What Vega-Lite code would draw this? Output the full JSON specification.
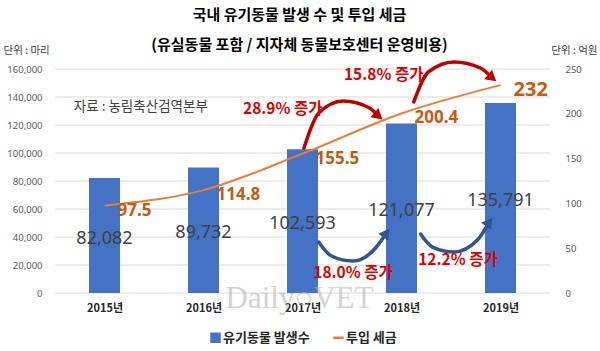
{
  "$schema": "https://vega.github.io/schema/vega-lite/v6.json",
  "width": 505,
  "height": 224,
  "autosize": "none",
  "padding": {"left": 50, "top": 69, "right": 45, "bottom": 58},
  "background": "white",
  "config": {
    "view": {"stroke": null},
    "font": "Noto Sans CJK KR",
    "legend": {"layout": {"bottom": {"anchor": "middle"}}}
  },
  "title": {
    "text": "국내 유기동물 발생 수 및 투입 세금",
    "subtitle": "(유실동물 포함 / 지자체 동물보호센터 운영비용)",
    "font": "Noto Sans CJK KR",
    "fontSize": 15,
    "fontWeight": "bold",
    "color": "#000000",
    "subtitleFont": "Noto Sans CJK KR",
    "subtitleFontSize": 15,
    "subtitleFontWeight": "bold",
    "subtitleColor": "#000000",
    "subtitlePadding": 15,
    "offset": -8,
    "anchor": "middle",
    "dx": -3
  },
  "datasets": {
    "main": [
      {"year": 2015, "count": 82082, "tax": 97.5},
      {"year": 2016, "count": 89732, "tax": 114.8},
      {"year": 2017, "count": 102593, "tax": 155.5},
      {"year": 2018, "count": 121077, "tax": 200.4},
      {"year": 2019, "count": 135791, "tax": 232}
    ],
    "gridlines": [
      {"v": 0}, {"v": 20000}, {"v": 40000}, {"v": 60000}, {"v": 80000},
      {"v": 100000}, {"v": 120000}, {"v": 140000}, {"v": 160000}
    ],
    "notes": [
      {"x": 2016.8, "y": 205.4, "label": "28.9% 증가"},
      {"x": 2017.82, "y": 243.3, "label": "15.8% 증가"},
      {"x": 2017.51, "y": 22.3, "label": "18.0% 증가"},
      {"x": 2018.57, "y": 36.8, "label": "12.2% 증가"}
    ],
    "arrows": [
      {"id": "a1", "kind": "up", "x": 2017.015, "y": 161.8},
      {"id": "a1", "kind": "up", "x": 2017.163, "y": 200.9},
      {"id": "a1", "kind": "up", "x": 2017.411, "y": 214.3},
      {"id": "a1", "kind": "up", "x": 2017.678, "y": 206.5},
      {"id": "a1", "kind": "up", "x": 2017.767, "y": 197.5},
      {"id": "a2", "kind": "up", "x": 2018.124, "y": 213.2},
      {"id": "a2", "kind": "up", "x": 2018.272, "y": 246.7},
      {"id": "a2", "kind": "up", "x": 2018.53, "y": 257.8},
      {"id": "a2", "kind": "up", "x": 2018.797, "y": 251.1},
      {"id": "a2", "kind": "up", "x": 2018.916, "y": 240.0},
      {"id": "a3", "kind": "down", "x": 2017.163, "y": 56.9},
      {"id": "a3", "kind": "down", "x": 2017.292, "y": 41.3},
      {"id": "a3", "kind": "down", "x": 2017.51, "y": 35.7},
      {"id": "a3", "kind": "down", "x": 2017.738, "y": 50.2},
      {"id": "a3", "kind": "down", "x": 2017.847, "y": 67.0},
      {"id": "a4", "kind": "down", "x": 2018.193, "y": 65.8},
      {"id": "a4", "kind": "down", "x": 2018.312, "y": 51.3},
      {"id": "a4", "kind": "down", "x": 2018.53, "y": 45.8},
      {"id": "a4", "kind": "down", "x": 2018.767, "y": 59.2},
      {"id": "a4", "kind": "down", "x": 2018.886, "y": 79.2}
    ],
    "heads": [
      {"id": "a1", "kind": "up", "x": 2017.767, "y": 197.5},
      {"id": "a2", "kind": "up", "x": 2018.916, "y": 240.0},
      {"id": "a3", "kind": "down", "x": 2017.847, "y": 67.0},
      {"id": "a4", "kind": "down", "x": 2018.886, "y": 79.2}
    ]
  },
  "data": {"name": "main"},
  "layer": [
    {
      "data": {"name": "gridlines"},
      "mark": {"type": "rule", "color": "#d9d9d9", "strokeWidth": 1},
      "encoding": {
        "x": {"datum": 2014.5, "type": "quantitative"},
        "x2": {"datum": 2019.5},
        "y": {"field": "v", "type": "quantitative", "scale": {"domain": [0, 160000], "nice": false}, "axis": null}
      }
    },
    {
      "mark": {"type": "bar", "width": 31},
      "encoding": {
        "x": {
          "field": "year", "type": "quantitative",
          "scale": {"domain": [2014.5, 2019.5], "nice": false, "zero": false},
          "axis": {
            "title": null, "values": [2015, 2016, 2017, 2018, 2019],
            "labelExpr": "datum.value + '년'",
            "labelFont": "Noto Sans CJK KR", "labelFontWeight": "bold", "labelFontSize": 11,
            "labelColor": "#262626", "labelPadding": 9, "ticks": false, "domain": false, "grid": false
          }
        },
        "y": {
          "field": "count", "type": "quantitative",
          "scale": {"domain": [0, 160000], "nice": false},
          "axis": {
            "orient": "left",
            "title": "단위 : 마리", "titleAngle": 0, "titleAlign": "left", "titleBaseline": "middle",
            "titleX": -47, "titleY": -19, "titleFontWeight": "normal", "titleFontSize": 10.5,
            "titleColor": "#404040", "titleFont": "Noto Sans CJK KR",
            "values": [0, 20000, 40000, 60000, 80000, 100000, 120000, 140000, 160000],
            "format": ",d",
            "labelFont": "Noto Sans", "labelFontSize": 9.5, "labelColor": "#595959",
            "labelPadding": 8, "ticks": false, "domain": false,
            "grid": false
          }
        },
        "color": {
          "datum": "유기동물 발생수",
          "scale": {"domain": ["유기동물 발생수", "투입 세금"], "range": ["#4472C4", "#ED7D31"]},
          "legend": {
            "orient": "bottom", "title": null, "direction": "horizontal",
            "labelFont": "Noto Sans CJK KR", "labelFontWeight": "bold", "labelFontSize": 13,
            "labelColor": "#262626", "symbolSize": 110, "labelOffset": 1, "columnPadding": 18,
            "offset": 18, "symbolOpacity": 1,
            "encode": {
              "symbols": {
                "update": {
                  "shape": {"signal": "datum.value === '투입 세금' ? 'stroke' : 'square'"},
                  "fill": {"scale": "color", "field": "value"},
                  "stroke": {"scale": "color", "field": "value"},
                  "strokeWidth": {"signal": "datum.value === '투입 세금' ? 2.5 : 0"},
                  "opacity": {"value": 1}
                }
              }
            }
          }
        }
      }
    },
    {
      "layer": [
        {
          "mark": {"type": "line", "interpolate": "monotone", "strokeWidth": 2},
          "encoding": {
            "x": {"field": "year", "type": "quantitative"},
            "y": {
              "field": "tax", "type": "quantitative",
              "scale": {"domain": [0, 250], "nice": false},
              "axis": {
                "orient": "right",
                "title": "단위 : 억원", "titleAngle": 0, "titleAlign": "right", "titleBaseline": "middle",
                "titleX": 42, "titleY": -19, "titleFontWeight": "normal", "titleFontSize": 10.5,
                "titleColor": "#404040", "titleFont": "Noto Sans CJK KR",
                "values": [0, 50, 100, 150, 200, 250],
                "labelFont": "Noto Sans", "labelFontSize": 9.5, "labelColor": "#595959",
                "labelPadding": 10, "ticks": false, "domain": false, "grid": false
              }
            },
            "color": {"datum": "투입 세금"}
          }
        },
        {
          "transform": [{"calculate": "datum.count / 2 * 250 / 160000", "as": "mid"}],
          "mark": {"type": "text", "font": "Noto Sans", "fontSize": 18, "color": "#404040", "baseline": "middle", "dy": 3},
          "encoding": {
            "x": {"field": "year", "type": "quantitative"},
            "y": {"field": "mid", "type": "quantitative"},
            "text": {"field": "count", "type": "quantitative", "format": ","}
          }
        },
        {
          "data": {"values": [{"t": "자료 : 농림축산검역본부", "x": 2014.69, "y": 207.6}]},
          "mark": {"type": "text", "font": "Noto Sans CJK KR", "fontSize": 13.5, "color": "#404040", "align": "left", "baseline": "middle"},
          "encoding": {
            "x": {"field": "x", "type": "quantitative"},
            "y": {"field": "y", "type": "quantitative"},
            "text": {"field": "t"}
          }
        },
        {
          "data": {"values": [{"t": "Daily○VET", "x": 2016.97, "y": -6.2}]},
          "mark": {"type": "text", "font": "Liberation Serif", "fontSize": 31, "color": "#b0b0b0", "opacity": 0.55, "align": "center", "baseline": "middle"},
          "encoding": {
            "x": {"field": "x", "type": "quantitative"},
            "y": {"field": "y", "type": "quantitative"},
            "text": {"field": "t"}
          }
        },
        {
          "mark": {"type": "text", "font": "Noto Sans", "fontWeight": "bold", "color": "#C55A11", "align": "left", "baseline": "middle", "dx": 13, "dy": 5},
          "encoding": {
            "x": {"field": "year", "type": "quantitative"},
            "y": {"field": "tax", "type": "quantitative"},
            "text": {"field": "tax", "type": "quantitative", "format": ".4~"},
            "size": {"condition": {"test": "datum.year === 2019", "value": 20}, "value": 17}
          }
        },
        {
          "data": {"name": "arrows"},
          "transform": [{"filter": "datum.kind === 'up'"}],
          "mark": {"type": "line", "interpolate": "monotone", "strokeWidth": 3.5, "color": "#C00000", "strokeCap": "round"},
          "encoding": {
            "x": {"field": "x", "type": "quantitative"},
            "y": {"field": "y", "type": "quantitative"},
            "detail": {"field": "id"}
          }
        },
        {
          "data": {"name": "arrows"},
          "transform": [{"filter": "datum.kind === 'down'"}],
          "mark": {"type": "line", "interpolate": "monotone", "strokeWidth": 3.5, "color": "#2F5597", "strokeCap": "round"},
          "encoding": {
            "x": {"field": "x", "type": "quantitative"},
            "y": {"field": "y", "type": "quantitative"},
            "detail": {"field": "id"}
          }
        },
        {
          "data": {"name": "heads"},
          "transform": [{"filter": "datum.kind === 'up'"}],
          "mark": {"type": "point", "shape": "triangle-up", "filled": true, "opacity": 1, "size": 150, "color": "#C00000", "angle": 130},
          "encoding": {
            "x": {"field": "x", "type": "quantitative"},
            "y": {"field": "y", "type": "quantitative"}
          }
        },
        {
          "data": {"name": "heads"},
          "transform": [{"filter": "datum.kind === 'down'"}],
          "mark": {"type": "point", "shape": "triangle-up", "filled": true, "opacity": 1, "size": 150, "color": "#2F5597", "angle": 35},
          "encoding": {
            "x": {"field": "x", "type": "quantitative"},
            "y": {"field": "y", "type": "quantitative"}
          }
        },
        {
          "data": {"name": "notes"},
          "mark": {"type": "text", "font": "Noto Sans CJK KR", "fontWeight": "bold", "fontSize": 15.5, "color": "#E00000", "align": "center", "baseline": "middle"},
          "encoding": {
            "x": {"field": "x", "type": "quantitative"},
            "y": {"field": "y", "type": "quantitative"},
            "text": {"field": "label"}
          }
        }
      ]
    }
  ],
  "resolve": {"scale": {"y": "independent"}}
}
